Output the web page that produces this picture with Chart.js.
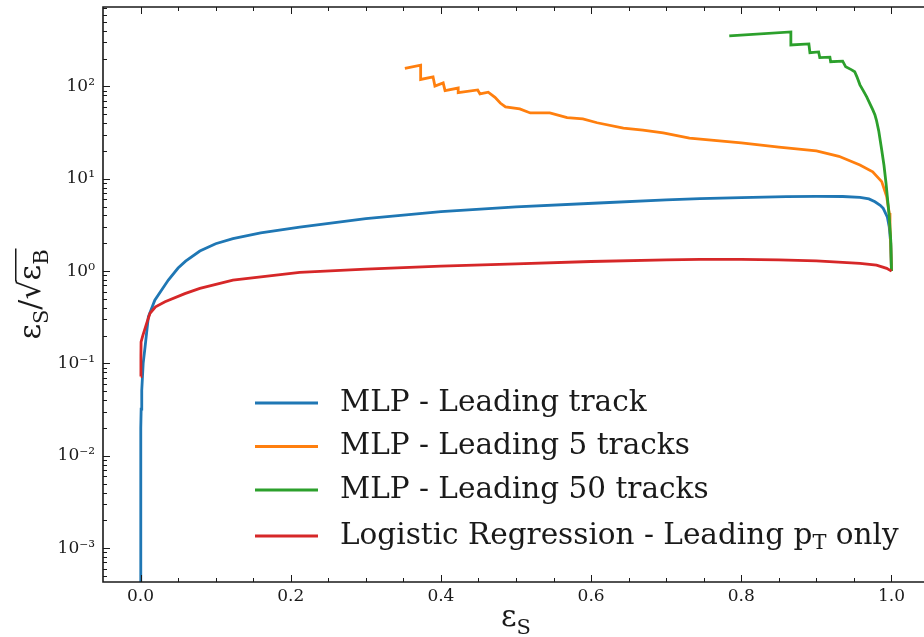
<!DOCTYPE html>
<html>
<head>
<meta charset="utf-8">
<script src="https://cdn.jsdelivr.net/npm/chart.js@4.4.1/dist/chart.umd.min.js"></script>
<style>
  html, body { margin: 0; padding: 0; background: #fff; overflow: hidden; }
  #wrap { width: 924px; height: 637px; }
</style>
</head>
<body>
<div id="wrap"><canvas id="roc" width="924" height="637"></canvas></div>
<script>
"use strict";

/* ---------- data ---------- */
const xTicks = [0, 0.2, 0.4, 0.6, 0.8, 1.0];
const xTickLabels = ["0.0", "0.2", "0.4", "0.6", "0.8", "1.0"];
const yTicks = [1e-3, 1e-2, 1e-1, 1, 10, 100];
const yTickLabels = ["10\u207B\u00B3", "10\u207B\u00B2", "10\u207B\u00B9", "10\u2070", "10\u00B9", "10\u00B2"];

const seriesNames = [
  "MLP - Leading track",
  "MLP - Leading 5 tracks",
  "MLP - Leading 50 tracks",
  "Logistic Regression - Leading p_{T} only"
];

// MLP - Leading track
const effBlue = [0, 0.0003, 0.0003, 0.0008, 0.0016, 0.0035, 0.006, 0.0104, 0.019, 0.037, 0.05, 0.06, 0.079, 0.1, 0.123, 0.16, 0.212, 0.3, 0.4, 0.5, 0.61, 0.7, 0.745, 0.8, 0.86, 0.9, 0.935, 0.958, 0.97, 0.978, 0.985, 0.989, 0.9944, 0.997, 0.999, 1.0];
const sigBlue = [0.0001, 0.008, 0.02, 0.032, 0.051, 0.1, 0.15, 0.32, 0.485, 0.8, 1.08, 1.28, 1.65, 1.98, 2.25, 2.6, 3.0, 3.7, 4.4, 4.95, 5.46, 5.9, 6.1, 6.25, 6.4, 6.45, 6.42, 6.3, 6.05, 5.63, 5.15, 4.78, 3.87, 3.0, 2.0, 1.0];

// MLP - Leading 5 tracks
const effOrange = [0.352, 0.373, 0.373, 0.3895, 0.392, 0.403, 0.4055, 0.423, 0.423, 0.449, 0.452, 0.463, 0.472, 0.479, 0.486, 0.505, 0.519, 0.545, 0.568, 0.589, 0.608, 0.643, 0.669, 0.696, 0.731, 0.8, 0.85, 0.9, 0.93, 0.958, 0.975, 0.987, 0.9936, 0.997, 0.998, 0.999, 1.0];
const sigOrange = [157, 170, 119, 127, 101, 109, 90, 96, 85.6, 91.5, 83, 86.5, 76, 66, 60, 57, 51.6, 51.6, 45.8, 44.4, 40.4, 35.4, 33.7, 31.3, 27.6, 24.4, 22, 20, 17.5, 14.1, 11.9, 9.3, 6.4, 4.25, 3.0, 2.0, 1.0];

// MLP - Leading 50 tracks
const effGreen = [0.784, 0.866, 0.866, 0.890, 0.8914, 0.903, 0.9045, 0.918, 0.919, 0.935, 0.939, 0.947, 0.951, 0.954, 0.958, 0.962, 0.967, 0.972, 0.975, 0.978, 0.980, 0.983, 0.987, 0.990, 0.9927, 0.997, 0.999, 1.0];
const sigGreen = [352, 389, 281, 288, 232, 236, 205, 207, 185, 188, 163, 151, 144, 127, 104, 91, 77, 63, 56, 49, 43, 33, 20.5, 14, 9.0, 3.9, 2.17, 1.0];

// Logistic Regression - Leading pT only
const effRed = [0.0003, 0.0005, 0.0007, 0.003, 0.008, 0.0126, 0.02, 0.0326, 0.059, 0.079, 0.123, 0.212, 0.3, 0.4, 0.5, 0.6, 0.7, 0.745, 0.8, 0.85, 0.9, 0.958, 0.98, 0.9936, 1.0];
const sigRed = [0.072, 0.12, 0.171, 0.2, 0.27, 0.35, 0.41, 0.465, 0.57, 0.65, 0.8, 0.97, 1.05, 1.13, 1.2, 1.27, 1.32, 1.34, 1.34, 1.32, 1.29, 1.21, 1.16, 1.07, 1.0];

const colors = ["#1f77b4", "#ff7f0e", "#2ca02c", "#d62728"];

/* ---------- helpers ---------- */
const SERIF = "'DejaVu Serif', serif";
const INK = "#1a1a1a";

function pts(xs, ys) { return xs.map((v, i) => ({ x: v, y: ys[i] })); }

// "p_{T}" -> runs with subscript flag
function runsOf(str) {
  const out = [];
  const re = /_\{([^}]*)\}/g;
  let last = 0, m;
  while ((m = re.exec(str)) !== null) {
    if (m.index > last) out.push({ t: str.slice(last, m.index), sub: false });
    out.push({ t: m[1], sub: true });
    last = re.lastIndex;
  }
  if (last < str.length) out.push({ t: str.slice(last), sub: false });
  return out;
}

function runFont(r, size) {
  return (r.sub ? Math.round(size * 0.7) : size) + "px " + SERIF;
}

function runsWidth(ctx, runs, size) {
  let w = 0;
  runs.forEach(r => { ctx.font = runFont(r, size); w += ctx.measureText(r.t).width; });
  return w;
}

function drawRuns(ctx, runs, x, y, size) {
  let cx = x;
  runs.forEach(r => {
    ctx.font = runFont(r, size);
    ctx.fillText(r.t, cx, r.sub ? y + size * 0.26 : y);
    cx += ctx.measureText(r.t).width;
  });
  return cx;
}

/* ---------- plugins ---------- */
const framePlugin = {
  id: "frame",
  afterDatasetsDraw(chart) {
    const { ctx, chartArea: a, scales: { x, y } } = chart;
    ctx.save();
    ctx.strokeStyle = INK;

    // ticks pointing inwards (bottom/top and left)
    ctx.lineWidth = 1;
    const tick = (x0, y0, x1, y1) => { ctx.beginPath(); ctx.moveTo(x0, y0); ctx.lineTo(x1, y1); ctx.stroke(); };
    for (let k = 0; k <= 20; k++) {
      const v = k * 0.05;
      if (v > x.max) break;
      const px = Math.round(x.getPixelForValue(v)) + 0.5;
      const len = (k % 4 === 0) ? 7 : 4;
      tick(px, a.bottom, px, a.bottom - len);
      tick(px, a.top, px, a.top + len);
    }
    for (let e = -4; e <= 2; e++) {
      for (let m = 1; m <= 9; m++) {
        const v = m * Math.pow(10, e);
        if (v < y.min || v > y.max) continue;
        const py = Math.round(y.getPixelForValue(v)) + 0.5;
        tick(a.left, py, a.left + (m === 1 ? 7 : 4), py);
      }
    }

    // spines (the right one falls outside the picture)
    ctx.lineWidth = 1.6;
    ctx.beginPath();
    ctx.moveTo(a.right + 2, a.top);
    ctx.lineTo(a.left, a.top);
    ctx.lineTo(a.left, a.bottom);
    ctx.lineTo(a.right + 2, a.bottom);
    ctx.stroke();
    ctx.restore();
  }
};

const labelPlugin = {
  id: "axisLabels",
  afterDraw(chart) {
    const { ctx, chartArea: a, scales: { x } } = chart;
    ctx.save();
    ctx.fillStyle = INK;
    ctx.textBaseline = "alphabetic";
    const size = 30;

    // x label: eps_S
    const xr = [{ t: "\u03B5", sub: false }, { t: "S", sub: true }];
    const xw = runsWidth(ctx, xr, size);
    drawRuns(ctx, xr, x.getPixelForValue(0.5) - xw / 2, 626, size);

    // y label: eps_S / sqrt(eps_B)
    const yr = [{ t: "\u03B5", sub: false }, { t: "S", sub: true }, { t: "/\u221A", sub: false }];
    const rad = [{ t: "\u03B5", sub: false }, { t: "B", sub: true }];
    const w1 = runsWidth(ctx, yr, size);
    const w2 = runsWidth(ctx, rad, size);
    ctx.translate(40, (a.top + a.bottom) / 2);
    ctx.rotate(-Math.PI / 2);
    const start = -(w1 + w2) / 2;
    const mid = drawRuns(ctx, yr, start, 0, size);
    const end = drawRuns(ctx, rad, mid, 0, size);
    ctx.font = size + "px " + SERIF;
    const top = -ctx.measureText("\u221A").actualBoundingBoxAscent;
    ctx.strokeStyle = INK;
    ctx.lineWidth = 1.5;
    ctx.beginPath();
    ctx.moveTo(mid - 1, top + 0.75);
    ctx.lineTo(end + 1, top + 0.75);
    ctx.stroke();
    ctx.restore();
  }
};

const legendPlugin = {
  id: "richLegend",
  afterDraw(chart) {
    const { ctx } = chart;
    const rowY = [403, 446.5, 490, 536];
    const size = 29.5;
    ctx.save();
    ctx.textBaseline = "middle";
    chart.data.datasets.forEach((ds, i) => {
      ctx.strokeStyle = ds.borderColor;
      ctx.lineWidth = 3;
      ctx.beginPath();
      ctx.moveTo(255, rowY[i]);
      ctx.lineTo(318, rowY[i]);
      ctx.stroke();
      ctx.fillStyle = INK;
      drawRuns(ctx, runsOf(seriesNames[i]), 340, rowY[i], size);
    });
    ctx.restore();
  }
};

/* ---------- chart ---------- */
const order = [4, 3, 2, 1];
const datasets = [
  pts(effBlue, sigBlue),
  pts(effOrange, sigOrange),
  pts(effGreen, sigGreen),
  pts(effRed, sigRed)
].map((d, i) => ({
  label: seriesNames[i].replace(/_\{([^}]*)\}/g, "$1"),
  data: d,
  borderColor: colors[i],
  backgroundColor: colors[i],
  borderWidth: 2.8,
  pointRadius: 0,
  tension: 0,
  fill: false,
  order: order[i]
}));

new Chart(document.getElementById("roc").getContext("2d"), {
  type: "line",
  data: { datasets },
  options: {
    responsive: false,
    animation: false,
    devicePixelRatio: 1,
    layout: { padding: { top: 7, left: 0, right: 0, bottom: 0 } },
    plugins: { legend: { display: false }, tooltip: { enabled: false } },
    scales: {
      x: {
        type: "linear",
        min: -0.05,
        max: 1.0433,
        grid: { display: false, drawTicks: false },
        border: { display: false },
        afterBuildTicks: s => { s.ticks = xTicks.map(v => ({ value: v })); },
        afterFit: s => { s.height = 55; s.paddingLeft = 0; s.paddingRight = 0; },
        ticks: {
          padding: 4,
          color: INK,
          font: { family: SERIF, size: 17 },
          maxRotation: 0,
          callback: v => xTickLabels[xTicks.indexOf(v)] ?? ""
        }
      },
      y: {
        type: "logarithmic",
        min: 4.3e-4,
        max: 724,
        grid: { display: false, drawTicks: false },
        border: { display: false },
        afterBuildTicks: s => { s.ticks = yTicks.map(v => ({ value: v })); },
        afterFit: s => { s.width = 103; s.paddingTop = 0; s.paddingBottom = 0; },
        ticks: {
          padding: 8,
          color: INK,
          font: { family: SERIF, size: 17 },
          callback: v => {
            const i = yTicks.findIndex(t => Math.abs(Math.log10(t) - Math.log10(v)) < 1e-6);
            return i >= 0 ? yTickLabels[i] : "";
          }
        }
      }
    }
  },
  plugins: [framePlugin, labelPlugin, legendPlugin]
});
</script>
</body>
</html>
